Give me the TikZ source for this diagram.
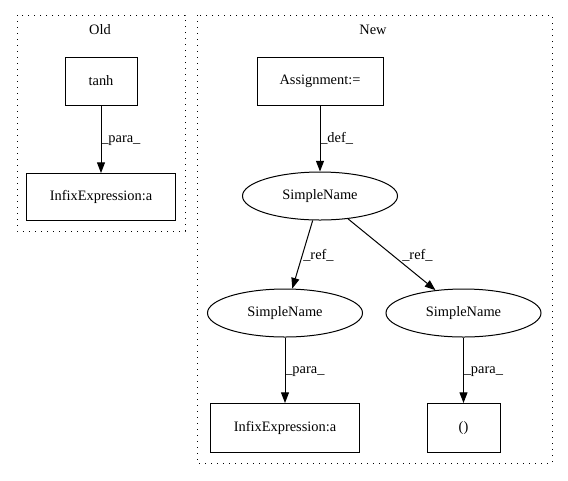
\documentclass[tikz,border=0pt]{standalone}
\usepackage{fontspec}
\setmainfont{Liberation Serif}
\usetikzlibrary{arrows.meta,shapes.geometric}
\begin{document}
\begin{tikzpicture}[x=0.75pt,y=-0.75pt,
  every node/.style={font=\fontsize{10.8}{12}\selectfont},
  boxnode/.style={draw,line width=0.75pt,rectangle,inner sep=0pt},
  ellnode/.style={draw,line width=0.75pt,ellipse,inner sep=0pt,minimum width=116.25pt,minimum height=36pt},
  cluster/.style={line width=0.75pt,dash pattern=on 0.9pt off 3.6pt},
  edge/.style={line width=0.75pt,-{Triangle[length=8pt,width=6pt]}},
  elabel/.style={anchor=west,inner sep=0pt}]
\useasboundingbox (0,0) rectangle (568,480);
% clusters
\draw[cluster] (17,15) rectangle (185,231);
\node (oldlbl) at (100,30) {Old};
\draw[cluster] (197,15) rectangle (552,463);
\node (newlbl) at (373,30) {New};
% Old nodes
\node[boxnode,minimum width=54pt,minimum height=36pt] (tanh) at (101,81) {tanh};
\node[boxnode,minimum width=111.75pt,minimum height=35.25pt] (infixold) at (101,197) {InfixExpression:a};
\draw[edge] (tanh) -- (infixold);
\node[elabel] (l1) at (101,141) {\_para\_};
% New nodes
\node[boxnode,minimum width=94.5pt,minimum height=36pt] (assign) at (320,81) {Assignment:=};
\node[ellnode] (sn0) at (320,196) {SimpleName};
\node[ellnode] (sn1) at (285,313) {SimpleName};
\node[ellnode] (sn2) at (463.5,313) {SimpleName};
\node[boxnode,minimum width=111.75pt,minimum height=36.75pt] (infixnew) at (285,428) {InfixExpression:a};
\node[boxnode,minimum width=54.75pt,minimum height=36.75pt] (paren) at (463.5,428) {()};
\draw[edge] (assign) -- (sn0);
\node[elabel] (l2) at (320,138) {\_def\_};
\draw[edge] (sn0) -- (sn1);
\node[elabel] (l3) at (303,255) {\_ref\_};
\draw[edge] (sn0) -- (sn2);
\node[elabel] (l4) at (402,255) {\_ref\_};
\draw[edge] (sn1) -- (infixnew);
\node[elabel] (l5) at (285,372) {\_para\_};
\draw[edge] (sn2) -- (paren);
\node[elabel] (l6) at (463.5,372) {\_para\_};
\end{tikzpicture}
\end{document}
